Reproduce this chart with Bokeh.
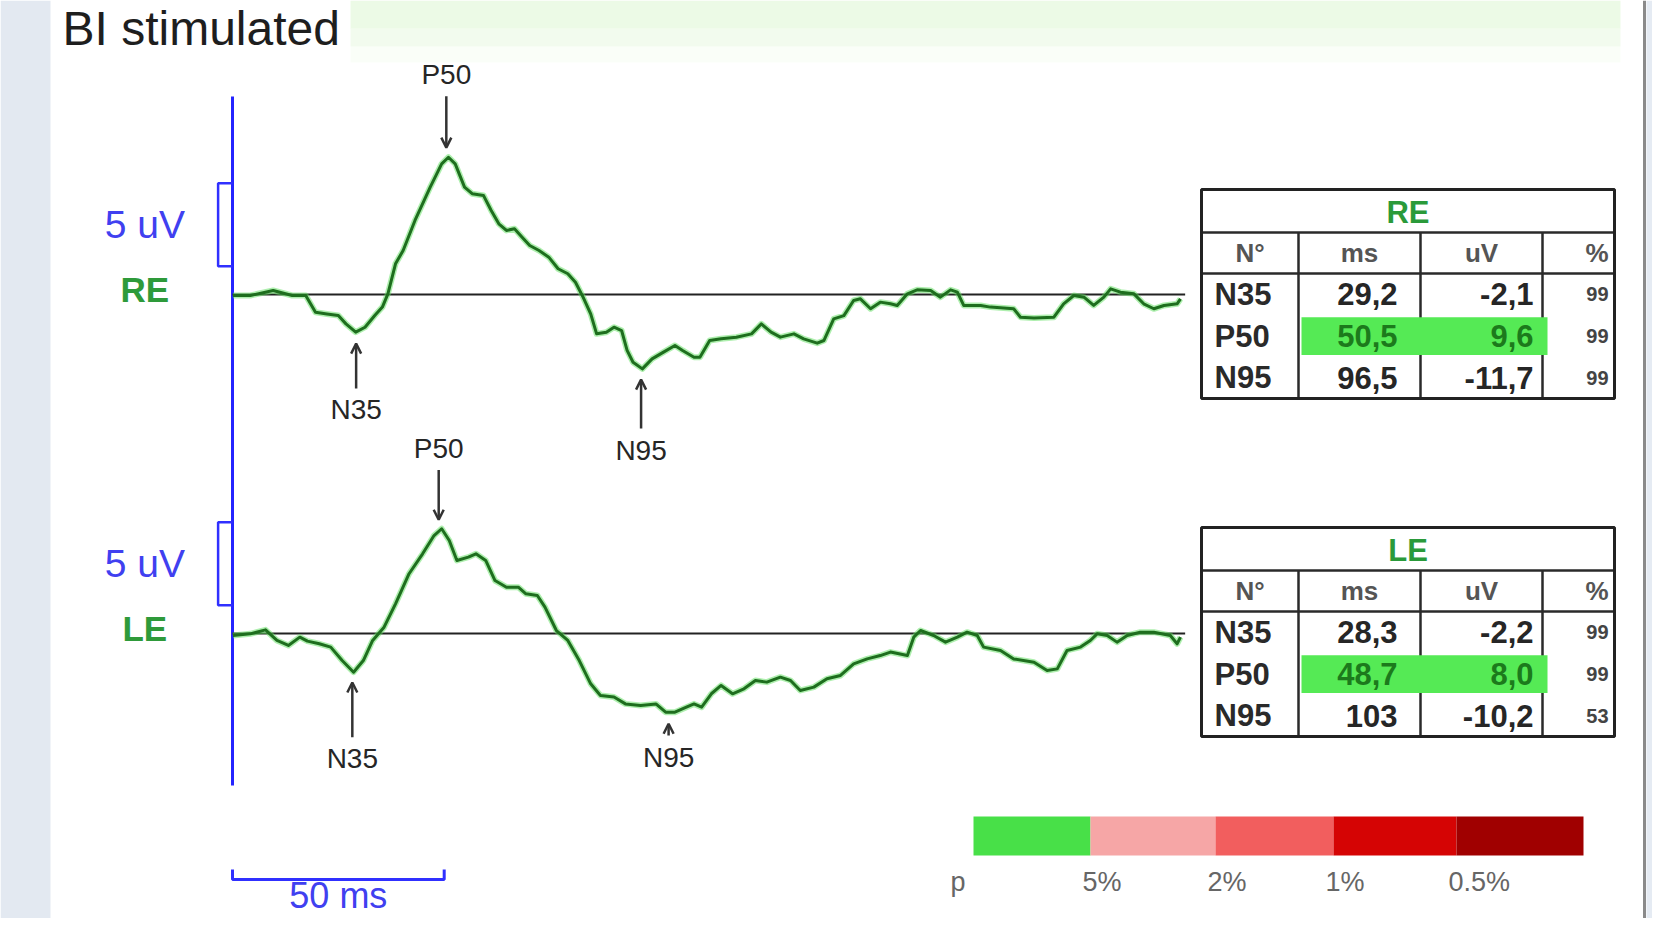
import numpy as np
from bokeh.plotting import figure
from bokeh.models import Range1d, Arrow, OpenHead, ColumnDataSource
from bokeh.core.properties import value
from bokeh.embed import file_html
from bokeh.resources import INLINE

# ---------------- data ----------------
re_ms = [0.1, 4.2, 9.6, 14.1, 17.3, 19.6, 22.3, 25.0, 26.8, 29.1, 31.3, 33.6, 35.4, 36.7, 38.5,
         40.3, 43.1, 46.7, 49.4, 51.0, 52.6, 54.8, 56.6, 59.3, 61.1, 62.9, 64.7, 66.6, 68.4, 70.2,
         72.4, 74.7, 76.9, 79.2, 81.0, 82.8, 84.6, 86.0, 88.3, 90.1, 91.9, 93.2, 94.6, 96.8, 99.1,
         101.8, 104.5, 106.3, 109.0, 110.4, 112.7, 115.4, 119.0, 122.6, 124.9, 127.2, 129.4, 132.6,
         134.9, 138.1, 139.7, 142.0, 144.4, 146.7, 148.3, 150.7, 153.0, 155.4, 157.0, 159.4, 161.7,
         164.9, 167.2, 169.6, 171.2, 172.7, 176.7, 179.0, 184.5, 186.1, 189.3, 194.0, 196.3, 198.7,
         201.1, 203.4, 205.8, 207.4, 209.7, 212.9, 215.2, 217.6, 220.0, 223.1, 223.9]
re_uv = [-0.06, -0.06, 0.24, -0.06, -0.06, -1.07, -1.17, -1.27, -1.77, -2.27, -1.97, -1.27, -0.76, 0.04, 1.85,
         2.65, 4.46, 6.47, 7.87, 8.27, 7.87, 6.47, 6.07, 5.96, 5.06, 4.26, 3.86, 3.96, 3.45, 2.95,
         2.65, 2.25, 1.55, 1.25, 0.74, -0.16, -1.17, -2.37, -2.27, -1.97, -2.17, -3.37, -4.08, -4.48, -3.88,
         -3.47, -3.07, -3.37, -3.78, -3.78, -2.77, -2.67, -2.57, -2.37, -1.77, -2.27, -2.57, -2.37,
         -2.67, -2.93, -2.77, -1.47, -1.27, -0.36, -0.26, -0.86, -0.46, -0.56, -0.66, 0.04, 0.28,
         0.24, -0.16, 0.28, 0.14, -0.66, -0.66, -0.76, -0.86, -1.37, -1.41, -1.37, -0.56, -0.06,
         -0.16, -0.66, -0.16, 0.34, 0.14, 0.04, -0.56, -0.86, -0.66, -0.56, -0.26]

le_ms = [0.1, 4.2, 7.8, 10.5, 13.2, 15.9, 17.7, 20.5, 23.2, 25.9, 28.6, 30.9, 33.1, 35.8, 38.5,
         41.7, 44.9, 47.6, 49.4, 51.2, 53.0, 55.7, 57.5, 59.8, 62.0, 64.7, 67.5, 69.3, 72.0, 73.8,
         76.5, 79.2, 81.9, 84.6, 86.9, 90.1, 92.8, 96.4, 100.0, 102.3, 104.5, 107.2, 109.0, 110.8,
         113.1, 115.4, 118.1, 120.8, 123.5, 126.2, 129.4, 131.8, 134.1, 137.3, 140.4, 143.6, 146.7,
         149.9, 153.0, 155.4, 159.4, 160.9, 162.5, 165.6, 168.4, 171.2, 173.5, 175.9, 177.4, 181.4,
         184.5, 189.3, 192.4, 194.8, 197.1, 200.3, 202.6, 204.2, 206.6, 208.9, 211.3, 214.4, 217.6,
         221.5, 223.1, 223.9]
le_uv = [-0.12, -0.02, 0.22, -0.42, -0.72, -0.22, -0.46, -0.62, -0.82, -1.63, -2.33, -1.63, -0.42, 0.38, 1.79,
         3.60, 4.80, 5.90, 6.31, 5.60, 4.40, 4.60, 4.80, 4.40, 3.19, 2.79, 2.79, 2.39, 2.29, 1.59,
         0.18, -0.42, -1.63, -3.03, -3.73, -3.83, -4.24, -4.34, -4.24, -4.74, -4.74, -4.44, -4.24, -4.44,
         -3.63, -3.13, -3.63, -3.33, -2.83, -2.93, -2.63, -2.83, -3.43, -3.23, -2.73, -2.53, -1.83,
         -1.53, -1.33, -1.12, -1.33, -0.22, 0.18, -0.12, -0.52, -0.22, 0.08, -0.12, -0.82, -1.02,
         -1.53, -1.73, -2.23, -2.13, -1.02, -0.82, -0.42, -0.02, -0.12, -0.52, -0.12, 0.08, 0.08,
         -0.12, -0.62, -0.22]

peaks = ["N35", "P50", "N95"]
re_lat = [29.2, 50.5, 96.5]
re_amp = [-2.1, 9.6, -11.7]
re_pct = [99, 99, 99]
le_lat = [28.3, 48.7, 103]
le_amp = [-2.2, 8.0, -10.2]
le_pct = [99, 99, 53]
highlight = ["P50"]

sweep_ms = 225          # length of the recording window
cal_uv = 5              # calibration bracket
cal_ms = 50             # time scale bar
p_labels = ["5%", "2%", "1%", "0.5%"]
p_colors = ["#48e048", "#f6a6a6", "#f25e5e", "#d50404", "#a00000"]

# ---------------- layout constants (pixels of the picture) ----------------
FX0, FX1, FY0, FY1 = 0, 1652, 0, 918
PX_MS, T0_PX = 4.234, 232
PX_UV, RE_BASE, LE_BASE = 16.6, 294, 633
FONT = value("Liberation Sans")

p = figure(width=FX1 - FX0, height=FY1 - FY0,
           x_range=Range1d(FX0, FX1), y_range=Range1d(FY1, FY0),
           x_axis_type=None, y_axis_type=None, min_border=0,
           output_backend="svg", toolbar_location=None,
           outline_line_color=None, background_fill_color="white",
           border_fill_color="white")
p.extra_x_ranges = {"ms": Range1d((FX0 - T0_PX) / PX_MS, (FX1 - T0_PX) / PX_MS)}
p.extra_y_ranges = {
    "re": Range1d((RE_BASE - FY1) / PX_UV, (RE_BASE - FY0) / PX_UV),
    "le": Range1d((LE_BASE - FY1) / PX_UV, (LE_BASE - FY0) / PX_UV),
}

# ---------------- page decoration ----------------
p.quad(left=FX0, right=50, top=FY0, bottom=FY1, fill_color="#e3e9f1", line_color=None)
p.quad(left=1646, right=FX1, top=FY0, bottom=FY1, fill_color="#e5ebf3", line_color=None)
p.segment(x0=1644, y0=FY0, x1=1644, y1=FY1, line_color="#8a8a8a", line_width=3)
for (y_a, y_b, a) in [(FY0, 28, 0.45), (28, 46, 0.3), (46, 62, 0.12)]:
    p.quad(left=350, right=1620, top=y_a, bottom=y_b, fill_color="#d4f3c8",
           fill_alpha=a, line_color=None)
p.text(x=[62], y=[28], text=["BI stimulated"], text_font=FONT, text_font_size="48px",
       text_color="#1e1e1e", text_align="left", text_baseline="middle")

# blue time axis line
p.segment(x0=T0_PX, y0=96, x1=T0_PX, y1=785, line_color="#2424ff", line_width=3)

# ---------------- traces ----------------
def draw_trace(ms, uv, rng, name, lat, arrow_len):
    # baseline
    p.line(x=[0, sweep_ms], y=[0, 0], x_range_name="ms", y_range_name=rng,
           line_color="#222222", line_width=2)
    p.line(x=ms, y=uv, x_range_name="ms", y_range_name=rng,
           line_color="#5ee05e", line_width=6, line_alpha=0.5, line_join="round")
    p.line(x=ms, y=uv, x_range_name="ms", y_range_name=rng,
           line_color="#1e6e1e", line_width=3, line_join="round")
    # calibration bracket
    bx, b0 = -3.4, 1.7
    p.line(x=[0, bx, bx, 0], y=[b0, b0, b0 + cal_uv, b0 + cal_uv],
           x_range_name="ms", y_range_name=rng, line_color="#3030ff", line_width=2.5)
    p.text(x=[-20.7], y=[b0 + cal_uv / 2], text=[f"{cal_uv} uV"], x_range_name="ms",
           y_range_name=rng, text_font=FONT, text_font_size="39px", text_color="#4040f0",
           text_align="center", text_baseline="middle")
    p.text(x=[-20.7], y=[0.3], text=[name], x_range_name="ms", y_range_name=rng,
           text_font=FONT, text_font_size="35px", text_font_style="bold",
           text_color="#2e9a3a", text_align="center", text_baseline="middle")
    # peak arrows
    amps = np.interp(lat, ms, uv)
    sign = np.array([1 if pk.startswith("P") else -1 for pk in peaks])
    tip = amps + sign * 0.7
    tail = tip + sign * np.array(arrow_len)
    lab = tail + sign * 1.3
    src = ColumnDataSource(dict(x=lat, tip=tip, tail=tail))
    p.add_layout(Arrow(end=OpenHead(size=10, line_color="#333333", line_width=2.5),
                       x_start="x", y_start="tail", x_end="x", y_end="tip", source=src,
                       line_color="#333333", line_width=2.5,
                       x_range_name="ms", y_range_name=rng))
    p.text(x=lat, y=lab, text=peaks, x_range_name="ms", y_range_name=rng,
           text_font=FONT, text_font_size="28px", text_color="#262626",
           text_align="center", text_baseline="middle")

draw_trace(re_ms, re_uv, "re", "RE", re_lat, [2.7, 3.1, 2.95])
draw_trace(le_ms, le_uv, "le", "LE", le_lat, [3.3, 3.0, 0.7])

# time scale bar
p.line(x=[0, 0, cal_ms, cal_ms], y=[869, 879, 879, 869], x_range_name="ms",
       line_color="#3030ff", line_width=3)
p.text(x=[cal_ms / 2], y=[895], text=[f"{cal_ms} ms"], x_range_name="ms",
       text_font=FONT, text_font_size="36px", text_color="#4040f0",
       text_align="center", text_baseline="middle")

# ---------------- tables ----------------
def fmt(v):
    return f"{v:.0f}" if abs(v) >= 100 else f"{v:.1f}".replace(".", ",")

def draw_table(top, title, lat, amp, pct):
    L, C1, C2, C3, R = 1201, 1298, 1420, 1542, 1614
    h_title, h_head, h_row = 43, 41, 41.7
    y_t = top + h_title
    y_h = y_t + h_head
    bottom = y_h + 3 * h_row
    rows_y = [y_h + h_row * (i + 0.5) for i in range(3)]
    p.segment(x0=[C1, C2, C3, L, L], y0=[y_t, y_t, y_t, y_t, y_h],
              x1=[C1, C2, C3, R, R], y1=[bottom, bottom, bottom, y_t, y_h],
              line_color="#2a2a2a", line_width=2.5)
    p.quad(left=L, right=R, top=top, bottom=bottom, fill_color=None,
           line_color="#222222", line_width=3)
    for i, pk in enumerate(peaks):
        if pk in highlight:
            p.quad(left=C1 + 3, right=C3 + 5, top=rows_y[i] - h_row / 2 + 2,
                   bottom=rows_y[i] + h_row / 2 - 2, fill_color="#55ea55", line_color=None)
    p.text(x=[(L + R) / 2], y=[top + h_title / 2 + 1], text=[title], text_font=FONT,
           text_font_size="31px", text_font_style="bold", text_color="#2a9a3a",
           text_align="center", text_baseline="middle")
    p.text(x=[(L + C1) / 2, (C1 + C2) / 2, (C2 + C3) / 2, R - 6], y=[y_t + h_head / 2] * 4,
           text=["N°", "ms", "uV", "%"], text_font=FONT, text_font_size="26px",
           text_font_style="bold", text_color="#555555",
           text_align=["center", "center", "center", "right"], text_baseline="middle")
    cols = ["#1c7a1c" if pk in highlight else "#262626" for pk in peaks]
    p.text(x=[L + 13] * 3, y=rows_y, text=peaks, text_font=FONT, text_font_size="31px",
           text_font_style="bold", text_color="#2a2a2a", text_align="left",
           text_baseline="middle")
    p.text(x=[C2 - 23] * 3, y=rows_y, text=[fmt(v) for v in lat], text_font=FONT,
           text_font_size="31px", text_font_style="bold", text_color=cols,
           text_align="right", text_baseline="middle")
    p.text(x=[C3 - 9] * 3, y=rows_y, text=[fmt(v) for v in amp], text_font=FONT,
           text_font_size="31px", text_font_style="bold", text_color=cols,
           text_align="right", text_baseline="middle")
    p.text(x=[R - 6] * 3, y=rows_y, text=[str(v) for v in pct], text_font=FONT,
           text_font_size="20px", text_font_style="bold", text_color="#444444",
           text_align="right", text_baseline="middle")

draw_table(189, "RE", re_lat, re_amp, re_pct)
draw_table(527, "LE", le_lat, le_amp, le_pct)

# ---------------- significance colour scale ----------------
edges = [973, 1090, 1215, 1333, 1456, 1583]
p.quad(left=edges[:-1], right=edges[1:], top=816, bottom=855, fill_color=p_colors,
       line_color=None)
p.text(x=[950] + [e - 8 for e in edges[1:-1]], y=[881] * 5, text=["p"] + p_labels,
       text_font=FONT, text_font_size="27px", text_color="#666666",
       text_align="left", text_baseline="middle")

open("out.html", "w").write(file_html(p, INLINE))
